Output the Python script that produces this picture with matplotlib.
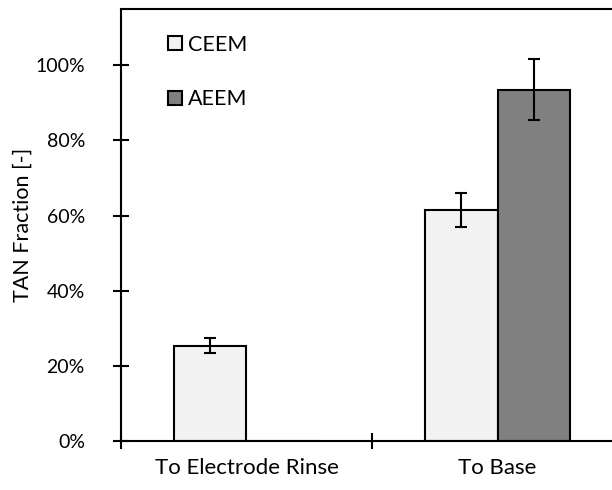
import numpy as np
import matplotlib
matplotlib.use("Agg")
import matplotlib.pyplot as plt
from matplotlib.patches import Patch
from matplotlib.ticker import PercentFormatter

plt.rcParams['font.family'] = ['Lato', 'DejaVu Sans']

# data
categories = ["To Electrode Rinse", "To Base"]
series = ["CEEM", "AEEM"]
ceem = [0.254, 0.615]
ceem_err = [0.020, 0.046]
aeem = [0.0, 0.935]
aeem_err = [0.0, 0.081]
colors = ["#f2f2f2", "#808080"]

fig = plt.figure(figsize=(6.12, 4.9), dpi=100)
ax = fig.add_axes([0.1977, 0.1, 0.8203, 0.8816])

w = 0.287
x = np.arange(len(categories)) + 0.5
ax.bar(x - w / 2, ceem, w, color=colors[0], edgecolor="black", linewidth=1.5, zorder=2)
ax.bar(x + w / 2, aeem, w, color=colors[1], edgecolor="black", linewidth=1.5, zorder=2)
ax.errorbar(x[:1] - w / 2, ceem[:1], yerr=ceem_err[:1], fmt="none", ecolor="black",
            elinewidth=1.5, capsize=4.3, capthick=1.5, zorder=3)
ax.errorbar(x[1:] - w / 2, ceem[1:], yerr=ceem_err[1:], fmt="none", ecolor="black",
            elinewidth=1.5, capsize=4.3, capthick=1.5, zorder=3)
ax.errorbar(x[1:] + w / 2, aeem[1:], yerr=aeem_err[1:], fmt="none", ecolor="black",
            elinewidth=1.5, capsize=4.3, capthick=1.5, zorder=3)

ax.set_xlim(0, len(categories))
ax.set_ylim(0, 1.15)
ax.set_yticks(np.arange(0, 1.01, 0.2))
ax.yaxis.set_major_formatter(PercentFormatter(1.0, decimals=0))
ax.set_xticks(np.arange(len(categories) + 1))
ax.set_xticklabels([])
ax.set_xticks(x, minor=True)
ax.set_xticklabels(categories, minor=True)
ax.tick_params(axis="x", which="minor", length=0, pad=12, labelsize=16)
ax.tick_params(axis="x", which="major", direction="inout", length=12, width=1.5)
ax.tick_params(axis="y", which="major", direction="inout", length=12, width=1.5,
               labelsize=14, pad=20)
ax.set_ylabel("TAN Fraction [-]", fontsize=15.5, labelpad=2)

for s in ["left", "bottom", "top"]:
    ax.spines[s].set_linewidth(1.5)
ax.spines["right"].set_visible(False)

handles = [Patch(facecolor=c, edgecolor="black", linewidth=1.5) for c in colors]
ax.legend(handles, series, loc="upper left", bbox_to_anchor=(0.055, 0.985), frameon=False,
          fontsize=15.5, handlelength=0.65, handleheight=0.65, handletextpad=0.3,
          labelspacing=1.6)

fig.savefig("out.png", dpi=100)
